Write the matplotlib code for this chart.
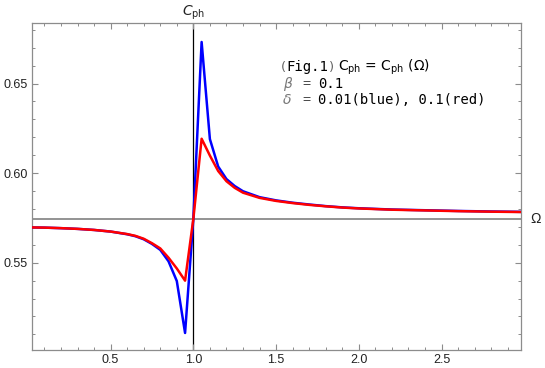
import numpy as np
import matplotlib
matplotlib.use('Agg')
import matplotlib.pyplot as plt
from matplotlib.ticker import MultipleLocator, FixedLocator

# values
omega = [0.025, 0.1, 0.2, 0.3, 0.4, 0.5, 0.6, 0.65, 0.7, 0.75, 0.8, 0.85, 0.9,
         0.95, 1.0, 1.05, 1.1, 1.15, 1.2, 1.25, 1.3, 1.4, 1.5, 1.6, 1.7, 1.8,
         1.9, 2.0, 2.2, 2.4, 2.6, 2.8, 2.98]
c_red = [0.5697, 0.5696, 0.5693, 0.5689, 0.5683, 0.5674, 0.5660, 0.5650, 0.5634,
         0.5609, 0.5580, 0.5528, 0.5468, 0.5400, 0.5745, 0.6192, 0.6098, 0.6012,
         0.5955, 0.5918, 0.5891, 0.5862, 0.5845, 0.5833, 0.5823, 0.5815, 0.5808,
         0.5803, 0.5796, 0.5792, 0.5788, 0.5785, 0.5783]
c_blue = [0.5697, 0.5696, 0.5693, 0.5689, 0.5683, 0.5674, 0.5659, 0.5648, 0.5631,
          0.5605, 0.5572, 0.5508, 0.5398, 0.5108, 0.5745, 0.6732, 0.6190, 0.6037,
          0.5967, 0.5928, 0.5899, 0.5866, 0.5848, 0.5835, 0.5825, 0.5816, 0.5809,
          0.5804, 0.5797, 0.5793, 0.5789, 0.5786, 0.5784]

origin_x = 1.0
origin_y = 0.5745
x_ticks = [0.5, 1.0, 1.5, 2.0, 2.5]
y_ticks = [0.55, 0.60, 0.65]

# frame in pixels: left 32, right 521, top 23, bottom 350
L, R, T, B = 32, 521, 23, 350
fig = plt.figure(figsize=(5.45, 3.68), dpi=100)
ax = fig.add_axes([L/545, (368-B)/368, (R-L)/545, (B-T)/368])

ax.axhline(origin_y, color='#808080', lw=1.2, zorder=1)
ax.axvline(origin_x, color='black', lw=0.9, zorder=1)

ax.plot(omega, c_blue, color='blue', lw=1.8, zorder=3)
ax.plot(omega, c_red, color='red', lw=1.8, zorder=4)

ax.set_xlim(0.025, 2.98)
ax.set_ylim(0.5013, 0.6838)

ax.xaxis.set_major_locator(FixedLocator(x_ticks))
ax.xaxis.set_minor_locator(MultipleLocator(0.1))
ax.yaxis.set_major_locator(FixedLocator(y_ticks))
ax.yaxis.set_minor_locator(MultipleLocator(0.01))
ax.set_xticklabels([f'{v:.1f}' for v in x_ticks])
ax.set_yticklabels([f'{v:.2f}' for v in y_ticks])

for s in ax.spines.values():
    s.set_color('#8c8c8c')
    s.set_linewidth(0.9)
ax.tick_params(which='both', direction='in', top=True, right=True,
               color='#8c8c8c', labelcolor='#222222', labelsize=9, pad=3)
ax.tick_params(which='major', length=4.5, width=0.8)
ax.tick_params(which='minor', length=2.5, width=0.7)
for lab in ax.get_xticklabels() + ax.get_yticklabels():
    lab.set_family('Liberation Sans')


def fx(px):
    return (px - L) / (R - L)


def fy(py):
    return (B - py) / (B - T)


# axis labels at the ends of the axes
ax.text(origin_x, fy(13), r'$C_{\rm ph}$', transform=ax.get_xaxis_transform(),
        ha='center', va='center', fontsize=10, color='#222222')
ax.text(1.02, origin_y, 'Ω', transform=ax.get_yaxis_transform(),
        ha='left', va='center', fontsize=10, color='#222222',
        family='Liberation Sans')

# annotation block
mono = 'DejaVu Sans Mono'
kw = dict(transform=ax.transAxes, va='center', ha='left')
ax.text(fx(281), fy(67), '(', fontsize=9.5, color='#666666', **kw)
ax.text(fx(286), fy(67), 'Fig.1', family=mono, fontsize=10, color='black', **kw)
ax.text(fx(329), fy(67), ')', fontsize=9.5, color='#666666', **kw)
ax.text(fx(338), fy(67), r'C$_{\rm ph}$ = C$_{\rm ph}$ (Ω)', family='DejaVu Sans',
        fontsize=10, **kw)

ax.text(fx(283), fy(84), 'β', fontsize=10, style='italic', color='#777777', **kw)
ax.text(fx(302), fy(84), '=', family=mono, fontsize=9.5, color='#444444', **kw)
ax.text(fx(318), fy(84), '0.1', family=mono, fontsize=10, color='black', **kw)

ax.text(fx(283), fy(100), 'δ', fontsize=10, style='italic', color='#777777', **kw)
ax.text(fx(302), fy(100), '=', family=mono, fontsize=9.5, color='#444444', **kw)
ax.text(fx(318), fy(100), '0.01(blue), 0.1(red)', family=mono, fontsize=10,
        color='black', **kw)

fig.savefig('out.png', dpi=100)
